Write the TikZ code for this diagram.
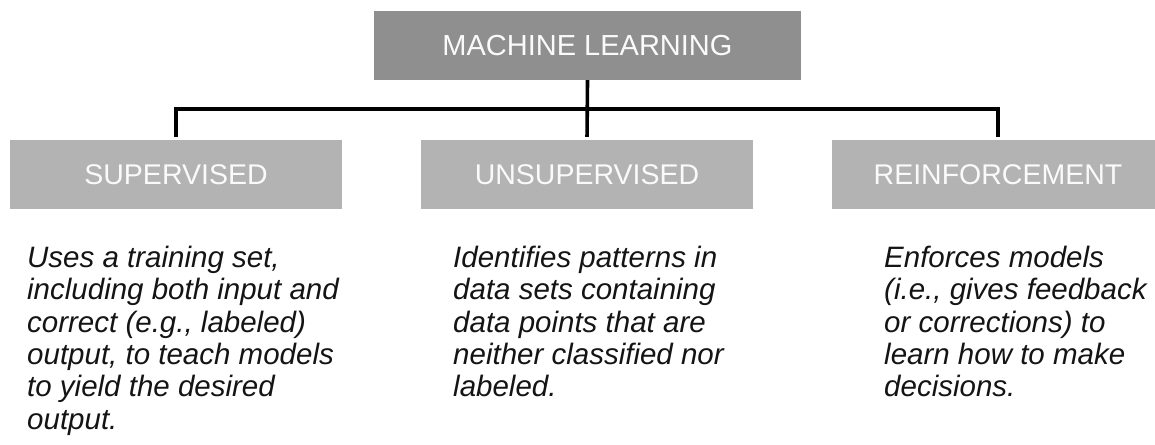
\documentclass[tikz,border=0pt]{standalone}
\usepackage{fontspec}
\setmainfont{Liberation Sans}
\definecolor{rootgray}{RGB}{143,143,143}
\definecolor{branchgray}{RGB}{179,179,179}
\definecolor{boxtext}{RGB}{250,250,250}
\definecolor{bodytext}{RGB}{20,20,20}
\tikzset{
  rootbox/.style={fill=rootgray, draw=none, minimum width=427pt, minimum height=69pt,
    inner sep=0pt, text=boxtext, font=\fontsize{29}{34}\selectfont},
  branchbox/.style={fill=branchgray, draw=none, minimum width=332pt, minimum height=69pt,
    inner sep=0pt, text=boxtext, font=\fontsize{28.5}{34}\selectfont},
  blurb/.style={anchor=north west, inner sep=0pt, align=left, text=bodytext,
    font=\fontsize{29.5}{32.3}\selectfont\itshape},
  tree/.style={line width=3.6pt, black, line join=miter}
}
\newcommand{\firstline}{\rule{0pt}{21pt}}
\begin{document}
\begin{tikzpicture}[x=1pt, y=-1pt]
  \useasboundingbox (0,0) rectangle (1155,444);
  \clip (0,0) rectangle (1155,444);

  % root and the three kinds of learning
  \node[rootbox]   (ml)     at (587.5,45.5)  {MACHINE LEARNING};
  \node[branchbox] (sup)    at (176,174.5)   {SUPERVISED};
  \node[branchbox] (unsup)  at (587,174.5)   {UNSUPERVISED};
  \node[branchbox] (rein)   at (998,174.5)   {REINFORCEMENT};

  % bracket joining the root to its branches
  \coordinate (bus) at (587,109);
  \draw[tree, shorten >=3pt] (ml.south) -- (unsup.north);
  \draw[tree, shorten <=3pt, shorten >=3pt] (sup.north) |- (bus) -| (rein.north);

  % descriptions below each branch
  \node[blurb] (supnote) at (27,246) {\firstline Uses a training set,\\
    including both input and\\ correct (e.g., labeled)\\
    output, to teach models\\ to yield the desired\\ output.};
  \node[blurb] (unsupnote) at (453,246) {\firstline Identifies patterns in\\
    data sets containing\\ data points that are\\
    neither classified nor\\ labeled.};
  \node[blurb] (reinnote) at (884,246) {\firstline Enforces models\\
    (i.e., gives feedback\\ or corrections) to\\
    learn how to make\\ decisions.};
\end{tikzpicture}
\end{document}
